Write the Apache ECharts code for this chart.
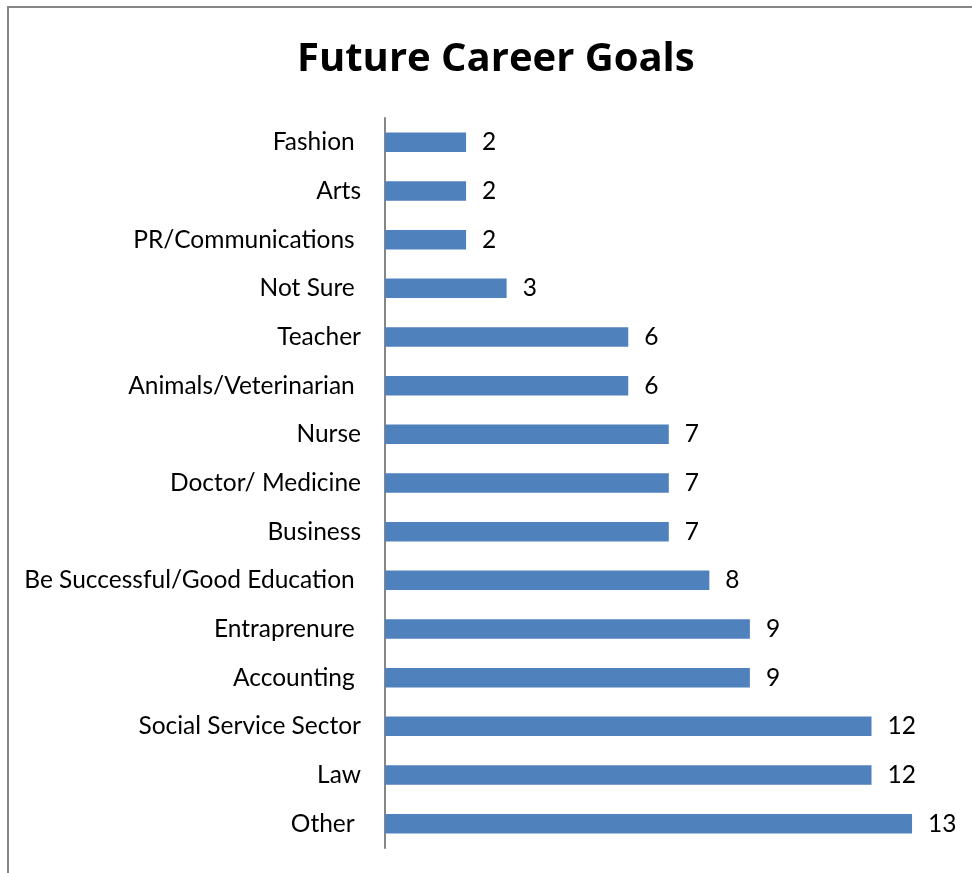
<!DOCTYPE html>
<html>
<head>
<meta charset="utf-8">
<script src="https://cdn.jsdelivr.net/npm/echarts@6/dist/echarts.min.js"></script>
<style>
  html, body { margin: 0; padding: 0; background: #fff; }
  #chart { width: 972px; height: 873px; }
</style>
</head>
<body>
<div id="chart"></div>
<script>
// Career goal categories, listed bottom to top along the vertical axis
const categories = [
  'Other ', 'Law', 'Social Service Sector', 'Accounting ', 'Entraprenure ',
  'Be Successful/Good Education ', 'Business', 'Doctor/ Medicine', 'Nurse',
  'Animals/Veterinarian ', 'Teacher', 'Not Sure ', 'PR/Communications ', 'Arts', 'Fashion '
];
const counts = [13, 12, 12, 9, 9, 8, 7, 7, 7, 6, 6, 3, 2, 2, 2];
const titleText = 'Future Career Goals';

const FONT = 'Lato';
const chart = echarts.init(document.getElementById('chart'), null, { renderer: 'canvas' });

chart.setOption({
  backgroundColor: '#ffffff',
  animation: false,
  title: {
    text: titleText,
    left: 292,
    top: 35,
    textStyle: { fontFamily: 'Open Sans', fontWeight: 'bold', fontSize: 40, color: '#000' }
  },
  graphic: [{
    type: 'rect',
    shape: { x: 8, y: 7, width: 1000, height: 1000 },
    style: { fill: 'none', stroke: '#868686', lineWidth: 2 },
    silent: true
  }],
  grid: { left: 385, top: 118, width: 567.6, bottom: 25 },
  xAxis: {
    type: 'value',
    min: 0,
    max: 14,
    show: false
  },
  yAxis: {
    type: 'category',
    data: categories,
    axisLine: { show: true, lineStyle: { color: '#868686', width: 2 } },
    axisTick: { show: false },
    axisLabel: { fontFamily: FONT, fontSize: 24.5, color: '#000', margin: 24 }
  },
  series: [{
    type: 'bar',
    data: counts,
    barCategoryGap: '60%',
    itemStyle: { color: '#4f81bd' },
    label: {
      show: true,
      position: 'right',
      distance: 16,
      fontFamily: FONT,
      fontSize: 24.5,
      color: '#000'
    }
  }]
});
</script>
</body>
</html>
